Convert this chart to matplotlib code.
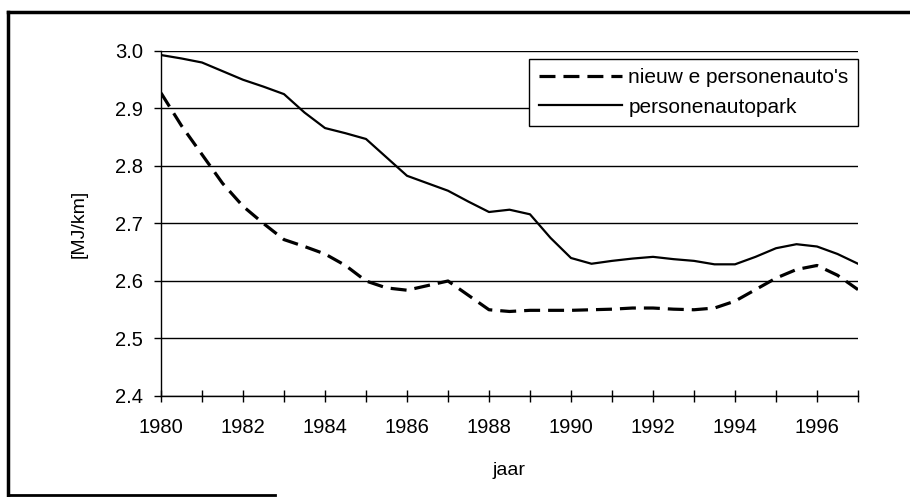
import matplotlib
matplotlib.use("Agg")
import matplotlib.pyplot as plt
from matplotlib.lines import Line2D

plt.rcParams['font.family'] = ['Liberation Sans', 'DejaVu Sans']

# years (half-year readings from the picture)
jaar = [1980, 1980.5, 1981, 1981.5, 1982, 1982.5, 1983, 1983.5, 1984, 1984.5,
        1985, 1985.5, 1986, 1986.5, 1987, 1987.5, 1988, 1988.5, 1989, 1989.5,
        1990, 1990.5, 1991, 1991.5, 1992, 1992.5, 1993, 1993.5, 1994, 1994.5,
        1995, 1995.5, 1996, 1996.5, 1997]

# new passenger cars [MJ/km]
nieuwe = [2.927, 2.870, 2.820, 2.770, 2.730, 2.700, 2.672, 2.660, 2.647, 2.627,
          2.600, 2.588, 2.584, 2.592, 2.600, 2.575, 2.550, 2.547, 2.549, 2.549,
          2.549, 2.550, 2.551, 2.553, 2.553, 2.551, 2.550, 2.553, 2.565, 2.585,
          2.605, 2.620, 2.627, 2.610, 2.585]

# whole car fleet [MJ/km]
autopark = [2.993, 2.987, 2.980, 2.965, 2.950, 2.938, 2.925, 2.893, 2.866, 2.857,
            2.847, 2.815, 2.783, 2.770, 2.757, 2.738, 2.720, 2.724, 2.716, 2.675,
            2.640, 2.630, 2.635, 2.639, 2.642, 2.638, 2.635, 2.629, 2.629, 2.642,
            2.657, 2.664, 2.660, 2.647, 2.630]

labels = ["nieuw e personenauto's", "personenautopark"]

fig = plt.figure(figsize=(9.10, 4.97), dpi=100)
ax = fig.add_axes([161/910, 1 - 396/497, (858 - 161)/910, (396 - 51)/497])

ax.plot(jaar, nieuwe, color='black', lw=2.3, ls=(0, (5, 2.5)), label=labels[0])
ax.plot(jaar, autopark, color='black', lw=1.6, label=labels[1])

ax.set_xlim(1980, 1997)
ax.set_ylim(2.4, 3.0)
ax.set_yticks([2.4, 2.5, 2.6, 2.7, 2.8, 2.9, 3.0])
ax.set_yticklabels(['2.4', '2.5', '2.6', '2.7', '2.8', '2.9', '3.0'])
ax.set_xticks(range(1980, 1998))
ax.set_xticklabels([str(y) if y % 2 == 0 else '' for y in range(1980, 1998)])
ax.grid(axis='y', color='black', lw=1.0)
ax.set_axisbelow(True)

for s in ['top', 'right']:
    ax.spines[s].set_visible(False)
ax.spines['left'].set_linewidth(1.0)
ax.spines['bottom'].set_linewidth(1.0)

ax.tick_params(axis='x', direction='inout', length=9, width=1, pad=11, labelsize=14.5)
ax.tick_params(axis='y', direction='out', length=5, width=1, pad=8, labelsize=14.5)

ax.set_xlabel('jaar', fontsize=14, labelpad=18)
ax.set_ylabel('[MJ/km]', fontsize=14, labelpad=20)

leg = ax.legend(loc='upper right', bbox_to_anchor=(1.0, 0.977), fontsize=15,
                frameon=True, fancybox=False, edgecolor='black', framealpha=1,
                handlelength=4.0, handletextpad=0.3, borderpad=0.45,
                labelspacing=0.5, borderaxespad=0)
leg.get_frame().set_linewidth(1.0)

# outer frame (only partly visible in the scan)
fig.add_artist(Line2D([8/910, 1.0], [1 - 12/497, 1 - 12/497], color='black', lw=2.5,
                      transform=fig.transFigure))
fig.add_artist(Line2D([8/910, 8/910], [1 - 12/497, 1 - 495/497], color='black', lw=2.5,
                      transform=fig.transFigure))
fig.add_artist(Line2D([8/910, 275/910], [1 - 495/497, 1 - 495/497], color='black', lw=2.0,
                      transform=fig.transFigure))

fig.savefig('out.png', dpi=100)
